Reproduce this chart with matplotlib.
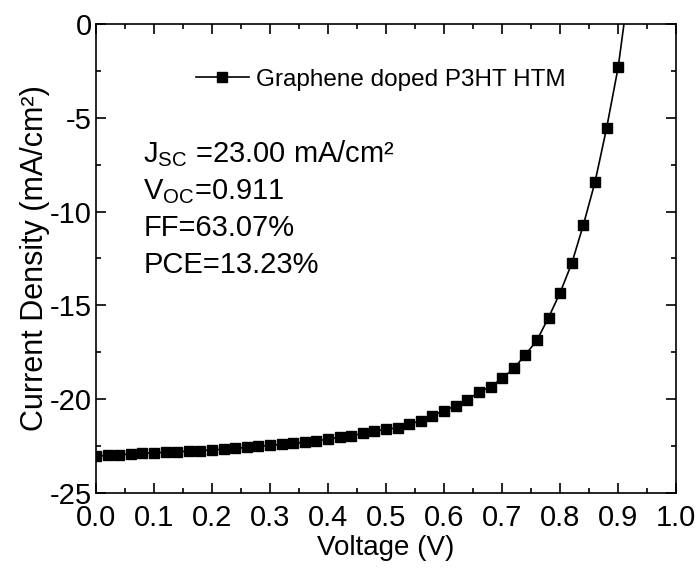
import matplotlib
matplotlib.use('Agg')
import matplotlib.pyplot as plt
from matplotlib.ticker import MultipleLocator

plt.rcParams['font.family'] = ['Liberation Sans', 'DejaVu Sans']
plt.rcParams['mathtext.fontset'] = 'custom'
plt.rcParams['mathtext.rm'] = 'Liberation Sans'
plt.rcParams['mathtext.it'] = 'Liberation Sans'
plt.rcParams['axes.unicode_minus'] = False

# J-V data
voltage = [0.00, 0.02, 0.04, 0.06, 0.08, 0.10, 0.12, 0.14, 0.16, 0.18,
           0.20, 0.22, 0.24, 0.26, 0.28, 0.30, 0.32, 0.34, 0.36, 0.38,
           0.40, 0.42, 0.44, 0.46, 0.48, 0.50, 0.52, 0.54, 0.56, 0.58,
           0.60, 0.62, 0.64, 0.66, 0.68, 0.70, 0.72, 0.74, 0.76, 0.78,
           0.80, 0.82, 0.84, 0.86, 0.88, 0.90]
current = [-23.03, -23.00, -22.96, -22.92, -22.89, -22.86, -22.83, -22.80, -22.77, -22.74,
           -22.71, -22.67, -22.62, -22.57, -22.52, -22.46, -22.40, -22.35, -22.30, -22.23,
           -22.12, -22.03, -21.95, -21.82, -21.70, -21.61, -21.52, -21.34, -21.14, -20.88,
           -20.61, -20.35, -20.02, -19.64, -19.33, -18.89, -18.36, -17.64, -16.86, -15.65,
           -14.32, -12.76, -10.71, -8.44, -5.56, -2.31]
# the fitted line runs on past the last point, out of the frame
line_tail_v = [0.90, 0.92]
line_tail_j = [-2.31, 2.30]

label = 'Graphene doped P3HT HTM'
stats = ['J$_{\\mathrm{SC}}$ =23.00 mA/cm\u00b2', 'V$_{\\mathrm{OC}}$=0.911', 'FF=63.07%', 'PCE=13.23%']

fig = plt.figure(figsize=(7.0, 5.73), dpi=100)
ax = fig.add_axes([0.137, 0.1396, 0.829, 0.8186])

ax.plot(voltage, current, color='black', lw=1.2, marker='s', ms=7, label=label)
ax.plot(line_tail_v, line_tail_j, color='black', lw=1.2)

ax.set_xlim(0.0, 1.0)
ax.set_ylim(-25, 0)
ax.xaxis.set_major_locator(MultipleLocator(0.1))
ax.xaxis.set_minor_locator(MultipleLocator(0.05))
ax.yaxis.set_major_locator(MultipleLocator(5))
ax.yaxis.set_minor_locator(MultipleLocator(2.5))
ax.set_xticklabels(['%.1f' % t for t in ax.get_xticks()])
ax.tick_params(which='both', direction='in', top=True, right=True, labelsize=21, width=1.2)
ax.tick_params(axis='x', pad=8)
ax.tick_params(axis='y', pad=3)
ax.tick_params(which='major', length=7)
ax.tick_params(which='minor', length=3.5)
for s in ax.spines.values():
    s.set_linewidth(1.2)

ax.set_xlabel('Voltage (V)', fontsize=20, labelpad=2)
ax.set_ylabel('Current Density (mA/cm\u00b2)', fontsize=22, labelpad=0)

ax.legend(loc='upper left', bbox_to_anchor=(0.155, 0.925), frameon=False, fontsize=17.5,
          handlelength=2.2, handletextpad=0.3, borderaxespad=0)

for i, t in enumerate(stats):
    ax.text(0.082, 0.706 - i * 0.0787, t, transform=ax.transAxes, fontsize=21, va='baseline')

fig.savefig('out.png', dpi=100)
